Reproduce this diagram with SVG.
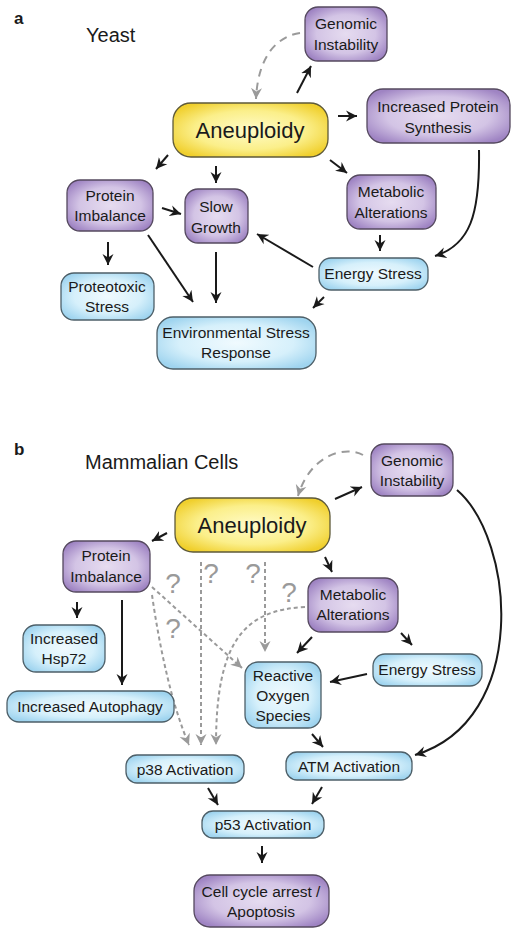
<svg xmlns="http://www.w3.org/2000/svg" width="516" height="938" viewBox="0 0 516 938">
<style>
text{font-family:"Liberation Sans",Arial,sans-serif;fill:#1a1a1a}
.t{font-size:15.5px;text-anchor:middle}
.big{font-size:22px;text-anchor:middle}
.title{font-size:20px}
.lab{font-size:17px;font-weight:bold}
.q{font-size:28px;fill:#9a9a9a;text-anchor:middle}
.pur{fill:url(#gPur);stroke:#55495f;stroke-width:1.3}
.yel{fill:url(#gYel);stroke:#5e5a3a;stroke-width:1.3}
.blu{fill:url(#gBlu);stroke:#4d5f68;stroke-width:1.3}
.s{fill:none;stroke:#1a1a1a;stroke-width:2;marker-end:url(#ak)}
.d{fill:none;stroke:#9a9a9a;stroke-width:2;stroke-dasharray:4 3;marker-end:url(#ag)}
.dl{fill:none;stroke:#9a9a9a;stroke-width:2;stroke-dasharray:8 6;marker-end:url(#ag)}
</style>
<defs>
<radialGradient id="gPur" cx="0.5" cy="0.5" r="0.6">
<stop offset="0" stop-color="#e6dcf0"/><stop offset="0.6" stop-color="#d3c4e5"/><stop offset="1" stop-color="#9f84c3"/>
</radialGradient>
<radialGradient id="gYel" cx="0.5" cy="0.5" r="0.6">
<stop offset="0" stop-color="#fffbc8"/><stop offset="0.6" stop-color="#fbef8a"/><stop offset="1" stop-color="#f0cf2c"/>
</radialGradient>
<radialGradient id="gBlu" cx="0.5" cy="0.5" r="0.6">
<stop offset="0" stop-color="#f0fafe"/><stop offset="0.6" stop-color="#d6f0fb"/><stop offset="1" stop-color="#9fd4ef"/>
</radialGradient>
<marker id="ak" markerUnits="userSpaceOnUse" markerWidth="12" markerHeight="12" viewBox="0 0 12 12" refX="11" refY="6" orient="auto">
<path d="M0,0.5 L11,6 L0,11.5 L3.5,6 Z" fill="#1a1a1a"/>
</marker>
<marker id="ag" markerUnits="userSpaceOnUse" markerWidth="12" markerHeight="12" viewBox="0 0 12 12" refX="11" refY="6" orient="auto">
<path d="M0,0.5 L11,6 L0,11.5 L3.5,6 Z" fill="#9a9a9a"/>
</marker>
</defs>

<text class="lab" x="14" y="24">a</text>
<text class="title" x="86" y="42">Yeast</text>
<text class="lab" x="14" y="455">b</text>
<text class="title" x="85" y="469">Mammalian Cells</text>

<g id="connectors">
<!-- panel a -->
<path class="s" d="M168,155 L156,169"/>
<path class="s" d="M216,166 L216,183"/>
<path class="s" d="M297,93 L311,66"/>
<path class="dl" d="M300,33 C278,36 258,55 256,99"/>
<path class="s" d="M338,116 L357,116"/>
<path class="s" d="M330,160 L347,173"/>
<path class="s" d="M479,150 C480,215 470,245 435,256"/>
<path class="s" d="M380,235 L380,251"/>
<path class="s" d="M313,267 L257,234"/>
<path class="s" d="M324,297 L313,308"/>
<path class="s" d="M162,208 L181,214"/>
<path class="s" d="M108,242 L108,265"/>
<path class="s" d="M148,235 L193,302"/>
<path class="s" d="M216,252 L216,303"/>
<!-- panel b -->
<path class="dl" d="M363,455 C345,445 310,455 298,496"/>
<path class="s" d="M335,499 L362,487"/>
<path class="s" d="M325,557 L332,572"/>
<path class="s" d="M167,533 L152,541"/>
<path class="s" d="M77,602 L77,618"/>
<path class="s" d="M122,600 L122,685"/>
<path class="s" d="M312,637 L297,653"/>
<path class="s" d="M401,633 L412,645"/>
<path class="s" d="M367,674 L330,682"/>
<path class="s" d="M312,734 L323,747"/>
<path class="s" d="M457,490 C515,540 530,720 415,755"/>
<path class="s" d="M208,788 L218,805"/>
<path class="s" d="M322,787 L312,804"/>
<path class="s" d="M262,846 L262,863"/>
<path class="d" d="M201,562 L201,745"/>
<path class="d" d="M152,595 C160,650 172,705 189,745"/>
<path class="d" d="M152,587 L242,668"/>
<path class="d" d="M265,562 L265,652"/>
<path class="d" d="M305,607 C245,610 216,640 216,745"/>
<text class="q" x="173" y="593">?</text>
<text class="q" x="211" y="583">?</text>
<text class="q" x="253" y="583">?</text>
<text class="q" x="289" y="602">?</text>
<text class="q" x="173" y="638">?</text>
</g>

<!-- panel a nodes -->
<g id="a-aneuploidy"><rect class="yel" x="173" y="103" width="155" height="54" rx="18"/><text class="big" x="250" y="138">Aneuploidy</text></g>
<g id="a-genomic"><rect class="pur" x="305" y="7" width="82" height="54" rx="13"/><text class="t" x="346" y="29">Genomic</text><text class="t" x="346" y="50">Instability</text></g>
<g id="a-ips"><rect class="pur" x="367" y="89" width="143" height="54" rx="16"/><text class="t" x="438" y="112">Increased Protein</text><text class="t" x="438" y="133">Synthesis</text></g>
<g id="a-metabolic"><rect class="pur" x="347" y="175" width="89" height="54" rx="13"/><text class="t" x="391" y="197">Metabolic</text><text class="t" x="391" y="218">Alterations</text></g>
<g id="a-energy"><rect class="blu" x="319" y="258" width="109" height="32" rx="12"/><text class="t" x="373" y="279">Energy Stress</text></g>
<g id="a-protein"><rect class="pur" x="67" y="180" width="86" height="51" rx="13"/><text class="t" x="110" y="201">Protein</text><text class="t" x="110" y="221">Imbalance</text></g>
<g id="a-slow"><rect class="pur" x="185" y="189" width="63" height="54" rx="13"/><text class="t" x="216" y="212">Slow</text><text class="t" x="216" y="233">Growth</text></g>
<g id="a-proteotoxic"><rect class="blu" x="61" y="273" width="93" height="47" rx="13"/><text class="t" x="107" y="292">Proteotoxic</text><text class="t" x="107" y="312">Stress</text></g>
<g id="a-esr"><rect class="blu" x="157" y="317" width="159" height="52" rx="16"/><text class="t" x="236" y="338">Environmental Stress</text><text class="t" x="236" y="358">Response</text></g>

<!-- panel b nodes -->
<g id="b-aneuploidy"><rect class="yel" x="175" y="498" width="155" height="54" rx="18"/><text class="big" x="252" y="533">Aneuploidy</text></g>
<g id="b-genomic"><rect class="pur" x="371" y="444" width="82" height="52" rx="13"/><text class="t" x="412" y="466">Genomic</text><text class="t" x="412" y="486">Instability</text></g>
<g id="b-protein"><rect class="pur" x="63" y="541" width="87" height="51" rx="13"/><text class="t" x="106" y="561">Protein</text><text class="t" x="106" y="582">Imbalance</text></g>
<g id="b-metabolic"><rect class="pur" x="308" y="578" width="90" height="54" rx="13"/><text class="t" x="353" y="600">Metabolic</text><text class="t" x="353" y="620">Alterations</text></g>
<g id="b-hsp72"><rect class="blu" x="23" y="625" width="82" height="47" rx="13"/><text class="t" x="64" y="644">Increased</text><text class="t" x="64" y="664">Hsp72</text></g>
<g id="b-autophagy"><rect class="blu" x="7" y="691" width="167" height="31" rx="12"/><text class="t" x="90" y="712">Increased Autophagy</text></g>
<g id="b-ros"><rect class="blu" x="245" y="662" width="76" height="66" rx="13"/><text class="t" x="283" y="681">Reactive</text><text class="t" x="283" y="701">Oxygen</text><text class="t" x="283" y="721">Species</text></g>
<g id="b-energy"><rect class="blu" x="373" y="654" width="109" height="32" rx="12"/><text class="t" x="427" y="675">Energy Stress</text></g>
<g id="b-p38"><rect class="blu" x="126" y="755" width="118" height="28" rx="11"/><text class="t" x="185" y="775">p38 Activation</text></g>
<g id="b-atm"><rect class="blu" x="286" y="752" width="126" height="28" rx="11"/><text class="t" x="349" y="772">ATM Activation</text></g>
<g id="b-p53"><rect class="blu" x="202" y="811" width="122" height="27" rx="11"/><text class="t" x="263" y="830">p53 Activation</text></g>
<g id="b-cellcycle"><rect class="pur" x="194" y="875" width="135" height="52" rx="16"/><text class="t" x="261" y="897">Cell cycle arrest /</text><text class="t" x="261" y="917">Apoptosis</text></g>
</svg>
